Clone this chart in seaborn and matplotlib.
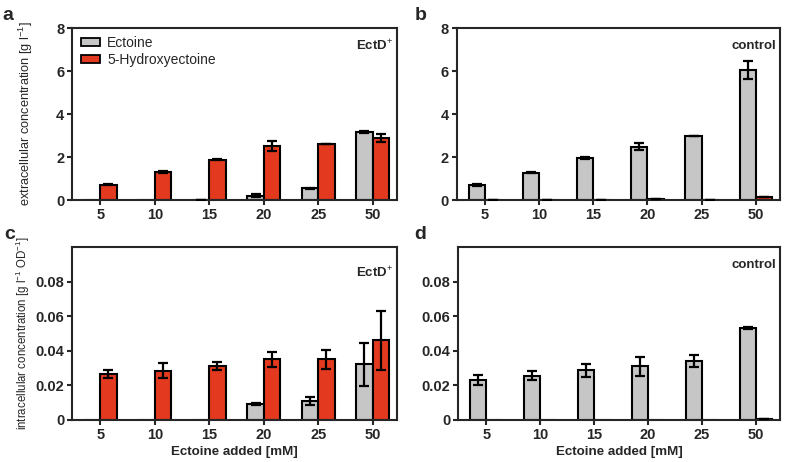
import matplotlib
matplotlib.use('Agg')
import matplotlib.pyplot as plt
import seaborn as sns
import pandas as pd

# categories on the x axis
added = ['5', '10', '15', '20', '25', '50']
compounds = ['Ectoine', '5-Hydroxyectoine']

# panel a: extracellular, EctD+
a_ect = [0, 0, 0.02, 0.2, 0.55, 3.17]
a_ect_err = [0, 0, 0, 0.06, 0.02, 0.03]
a_hyd = [0.72, 1.31, 1.88, 2.52, 2.61, 2.88]
a_hyd_err = [0.04, 0.04, 0.02, 0.25, 0.02, 0.2]

# panel b: extracellular, control
b_ect = [0.71, 1.27, 1.97, 2.48, 2.98, 6.05]
b_ect_err = [0.05, 0.03, 0.04, 0.17, 0.02, 0.42]
b_hyd = [0.02, 0.02, 0.02, 0.03, 0.02, 0.12]
b_hyd_err = [0, 0, 0, 0, 0, 0]

# panel c: intracellular, EctD+
c_ect = [0, 0, 0, 0.0092, 0.011, 0.0323]
c_ect_err = [0, 0, 0, 0.0006, 0.0021, 0.0125]
c_hyd = [0.0265, 0.0285, 0.0315, 0.035, 0.035, 0.046]
c_hyd_err = [0.0025, 0.0045, 0.0023, 0.0046, 0.0056, 0.0168]

# panel d: intracellular, control
d_ect = [0.0231, 0.0256, 0.0288, 0.0312, 0.0342, 0.0533]
d_ect_err = [0.0029, 0.0026, 0.0037, 0.0055, 0.0036, 0.0005]
d_hyd = [0, 0, 0, 0, 0, 0.0008]
d_hyd_err = [0, 0, 0, 0, 0, 0]

top_ticks = [0, 2, 4, 6, 8]
top_labels = ['0', '2', '4', '6', '8']
bottom_ticks = [0, 0.02, 0.04, 0.06, 0.08]
bottom_labels = ['0', '0.02', '0.04', '0.06', '0.08']

sns.set_style('ticks')
plt.rcParams['font.family'] = ['Liberation Sans', 'DejaVu Sans']
plt.rcParams['mathtext.fontset'] = 'custom'
plt.rcParams['mathtext.rm'] = 'Liberation Sans'
plt.rcParams['mathtext.it'] = 'Liberation Sans'
plt.rcParams['mathtext.bf'] = 'Liberation Sans:bold'
plt.rcParams['axes.linewidth'] = 1.5

colors = {'Ectoine': '#c6c6c6', '5-Hydroxyectoine': '#e2391f'}

fig = plt.figure(figsize=(7.86, 4.62), dpi=100)
ax_a = fig.add_axes([0.0916, 0.567, 0.413, 0.372])
ax_b = fig.add_axes([0.581, 0.567, 0.411, 0.372])
ax_c = fig.add_axes([0.0916, 0.091, 0.413, 0.374])
ax_d = fig.add_axes([0.583, 0.091, 0.409, 0.374])

panels = [
    (ax_a, 'a', a_ect, a_ect_err, a_hyd, a_hyd_err, 'EctD$^{+}$', 0.90),
    (ax_b, 'b', b_ect, b_ect_err, b_hyd, b_hyd_err, 'control', 0.895),
    (ax_c, 'c', c_ect, c_ect_err, c_hyd, c_hyd_err, 'EctD$^{+}$', 0.85),
    (ax_d, 'd', d_ect, d_ect_err, d_hyd, d_hyd_err, 'control', 0.895),
]

for ax, name, ect, ect_err, hyd, hyd_err, tag, tag_y in panels:
    df = pd.DataFrame({
        'added': added * 2,
        'compound': ['Ectoine'] * 6 + ['5-Hydroxyectoine'] * 6,
        'conc': ect + hyd,
    })
    sns.barplot(data=df, x='added', y='conc', hue='compound', order=added,
                hue_order=compounds, palette=colors, saturation=1, width=0.6,
                edgecolor='black', linewidth=1.5, errorbar=None,
                legend=(name == 'a'), ax=ax)

    # error bars at the bar centres
    errs = {'Ectoine': (ect, ect_err), '5-Hydroxyectoine': (hyd, hyd_err)}
    for cont, comp in zip(ax.containers, compounds):
        vals, ee = errs[comp]
        for bar, v, e in zip(cont, vals, ee):
            if v == 0:
                continue
            ax.errorbar(bar.get_x() + bar.get_width() / 2, v, yerr=e,
                        color='black', elinewidth=1.6, capsize=3.6,
                        capthick=1.6, zorder=5)

    ax.set_xlim(-0.52, 5.44)
    if name in 'ab':
        ax.set_ylim(0, 8)
        ax.set_yticks(top_ticks, top_labels)
    else:
        ax.set_ylim(0, 0.1)
        ax.set_yticks(bottom_ticks, bottom_labels)
    for s in ax.spines.values():
        s.set_visible(True)
        s.set_linewidth(1.5)
    ax.tick_params(axis='both', direction='out', length=3.5, width=1.5,
                   labelsize=10.5, pad=2)
    for lab in ax.get_xticklabels() + ax.get_yticklabels():
        lab.set_fontweight('bold')

    ax.set_ylabel('')
    if name in 'cd':
        ax.set_xlabel('Ectoine added [mM]', fontsize=9.6, fontweight='bold',
                      labelpad=3)
    else:
        ax.set_xlabel('')

    ax.text(0.99, tag_y, tag, transform=ax.transAxes, ha='right', va='center',
            fontsize=9.5, fontweight='bold')

ax_a.set_ylabel('extracellular concentration [g l$^{-1}$]', fontsize=9.2)
ax_a.yaxis.set_label_coords(-0.115, 0.5)
ax_c.set_ylabel('intracellular concentration [g l$^{-1}$ OD$^{-1}$]', fontsize=8.3)
ax_c.yaxis.set_label_coords(-0.123, 0.5)

leg = ax_a.legend(loc='upper left', bbox_to_anchor=(0.01, 0.985), frameon=False,
                  fontsize=10, handlelength=1.4, handleheight=0.5,
                  handletextpad=0.5, labelspacing=0.2, borderaxespad=0)
for h in leg.legend_handles:
    h.set_edgecolor('black')
    h.set_linewidth(1.3)

# panel letters
fig.text(0.003, 0.985, 'a', fontsize=14, fontweight='bold', va='top')
fig.text(0.527, 0.985, 'b', fontsize=14, fontweight='bold', va='top')
fig.text(0.005, 0.51, 'c', fontsize=14, fontweight='bold', va='top')
fig.text(0.527, 0.51, 'd', fontsize=14, fontweight='bold', va='top')

fig.savefig('out.png', dpi=100)
